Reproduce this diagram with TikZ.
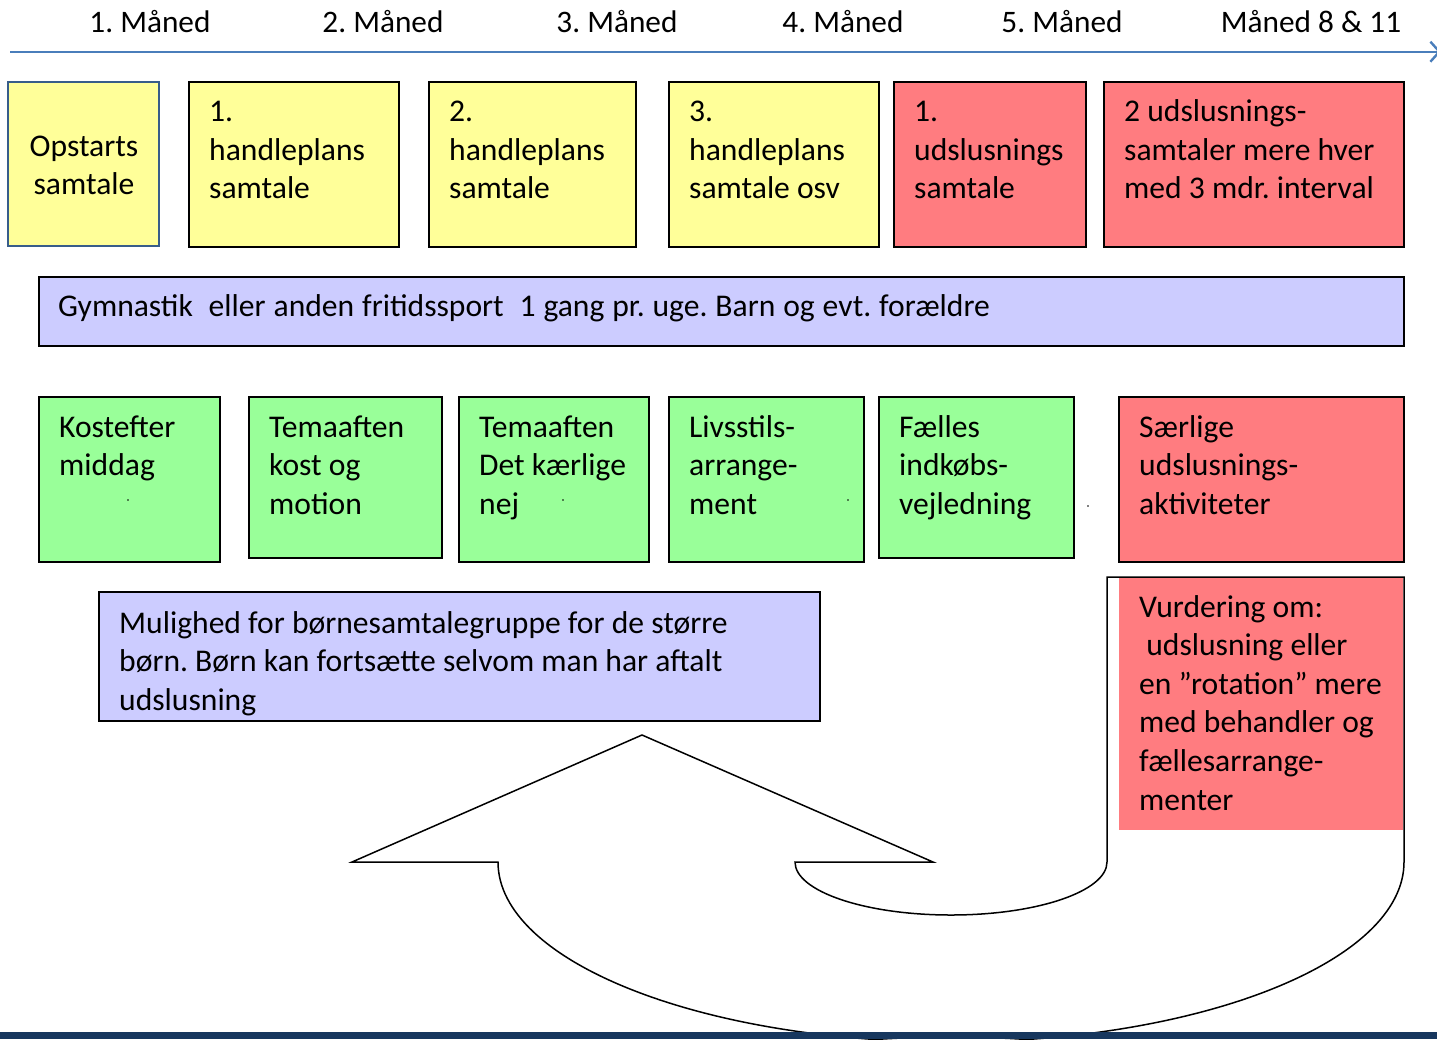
\documentclass[tikz,border=0pt]{standalone}
\usepackage{fontspec}
\setmainfont{Carlito}
\usetikzlibrary{arrows.meta}
\definecolor{yel}{HTML}{FFFF99}
\definecolor{redf}{HTML}{FF7C80}
\definecolor{grn}{HTML}{99FF99}
\definecolor{lav}{HTML}{CCCCFF}
\definecolor{tlblue}{HTML}{4A7EBB}
\definecolor{opsb}{HTML}{385D8A}
\definecolor{barc}{HTML}{17375E}
\newcommand{\mlL}[1]{\begin{tabular}[t]{@{}l@{}}#1\end{tabular}}
\newcommand{\mlC}[1]{\begin{tabular}[t]{@{}c@{}}#1\end{tabular}}
\newcommand{\widesp}{\spaceskip=7.9pt plus 1pt\relax}
\tikzset{
  box/.style={draw=black, line width=1.8pt, inner sep=0pt},
  txt/.style={inner sep=0pt, anchor=base west, font=\fontsize{31.6}{38.6}\selectfont},
  mlab/.style={inner sep=0pt, anchor=base, font=\fontsize{31.3}{38.6}\selectfont},
  dotm/.style={circle, fill=black, inner sep=0pt, minimum size=1.6pt},
}
\begin{document}
\frenchspacing
\begin{tikzpicture}[x=1pt,y=-1pt]
\useasboundingbox (0,0) rectangle (1437,1039);
% timeline
\coordinate (tl0) at (10,51.7);
\coordinate (tl1) at (1441,51.7);
\draw[tlblue, line width=2.4pt, -{Straight Barb[length=9pt,width=20pt,line width=2.4pt]}] (tl0) -- (tl1);
\node[mlab] (m1) at (150,32.7) {1. Måned};
\node[mlab] (m2) at (383,32.7) {2. Måned};
\node[mlab] (m3) at (617,32.7) {3. Måned};
\node[mlab] (m4) at (843,32.7) {4. Måned};
\node[mlab] (m5) at (1062,32.7) {5. Måned};
\node[mlab] (m6) at (1311,32.7) {Måned 8 \& 11};
% top row
\draw[fill=yel, draw=opsb, line width=1.5pt] (8,82) rectangle (159,246);
\node[mlab, font=\fontsize{31.6}{38.6}\selectfont] (t1) at (84,156) {\mlC{Opstarts\\samtale}};
\draw[box, fill=yel] (189,82) rectangle (399,247);
\node[txt] (t2) at (209,121.7) {\mlL{1.\\handleplans\\samtale}};
\draw[box, fill=yel] (429,82) rectangle (636,247);
\node[txt] (t3) at (449,121.7) {\mlL{2.\\handleplans\\samtale}};
\draw[box, fill=yel] (669,82) rectangle (879,247);
\node[txt] (t4) at (689,121.7) {\mlL{3.\\handleplans\\samtale osv}};
\draw[box, fill=redf] (894,82) rectangle (1086,247);
\node[txt] (t5) at (914,121.7) {\mlL{1.\\udslusnings\\samtale}};
\draw[box, fill=redf] (1104,82) rectangle (1404,247);
\node[txt] (t6) at (1124,121.7) {\mlL{2 udslusnings-\\samtaler mere hver\\med 3 mdr. interval}};
% gym bar
\draw[box, fill=lav] (39,277) rectangle (1404,346);
\node[txt] (gym) at (58,316) {\widesp Gymnastik\hspace{7.9pt}\hspace{7.9pt}eller anden fritidssport\hspace{7.9pt}\hspace{7.9pt}1 gang pr. uge. Barn og evt. forældre};
% green row
\draw[box, fill=grn] (39,397) rectangle (220,562);
\node[txt] (g1) at (59,437) {\mlL{Kostefter\\middag}};
\draw[box, fill=grn] (249,397) rectangle (442,558);
\node[txt] (g2) at (269,437) {\mlL{Temaaften\\kost og\\motion}};
\draw[box, fill=grn] (459,397) rectangle (649,562);
\node[txt] (g3) at (479,437) {\mlL{Temaaften\\Det kærlige\\nej}};
\draw[box, fill=grn] (669,397) rectangle (864,562);
\node[txt] (g4) at (689,437) {\mlL{Livsstils-\\arrange-\\ment}};
\draw[box, fill=grn] (879,397) rectangle (1074,558);
\node[txt] (g5) at (899,437) {\mlL{Fælles\\indkøbs-\\vejledning}};
\draw[box, fill=redf] (1119,397) rectangle (1404,562);
\node[txt] (g6) at (1139,437) {\mlL{Særlige\\udslusnings-\\aktiviteter}};
\node[dotm] (d1) at (128,500) {};
\node[dotm] (d2) at (563,500) {};
\node[dotm] (d3) at (848,500) {};
\node[dotm] (d4) at (1088,506) {};
% lower blue box
\draw[box, fill=lav] (99,592) rectangle (820,721);
\node[txt] (low) at (119,633) {\mlL{Mulighed for børnesamtalegruppe for de større\\børn. Børn kan fortsætte selvom man har aftalt\\udslusning}};
% U-turn arrow
\draw[fill=white, draw=black, line width=1.5pt, line join=miter]
  (1107,577) -- (1404,577) -- (1404,862)
  arc[start angle=0, end angle=180, x radius=453, y radius=180]
  -- (352,862) -- (642,735) -- (933,862) -- (795,862)
  arc[start angle=180, end angle=0, x radius=156, y radius=53]
  -- cycle;
\fill[redf] (1119,578) rectangle (1402.6,830);
\node[txt] (vur) at (1139,617) {\mlL{Vurdering om:\\\ udslusning eller\\en ”rotation” mere\\med behandler og\\fællesarrange-\\menter}};
% bottom bar
\fill[barc] (0,1032) rectangle (1437,1039);
\end{tikzpicture}
\end{document}
